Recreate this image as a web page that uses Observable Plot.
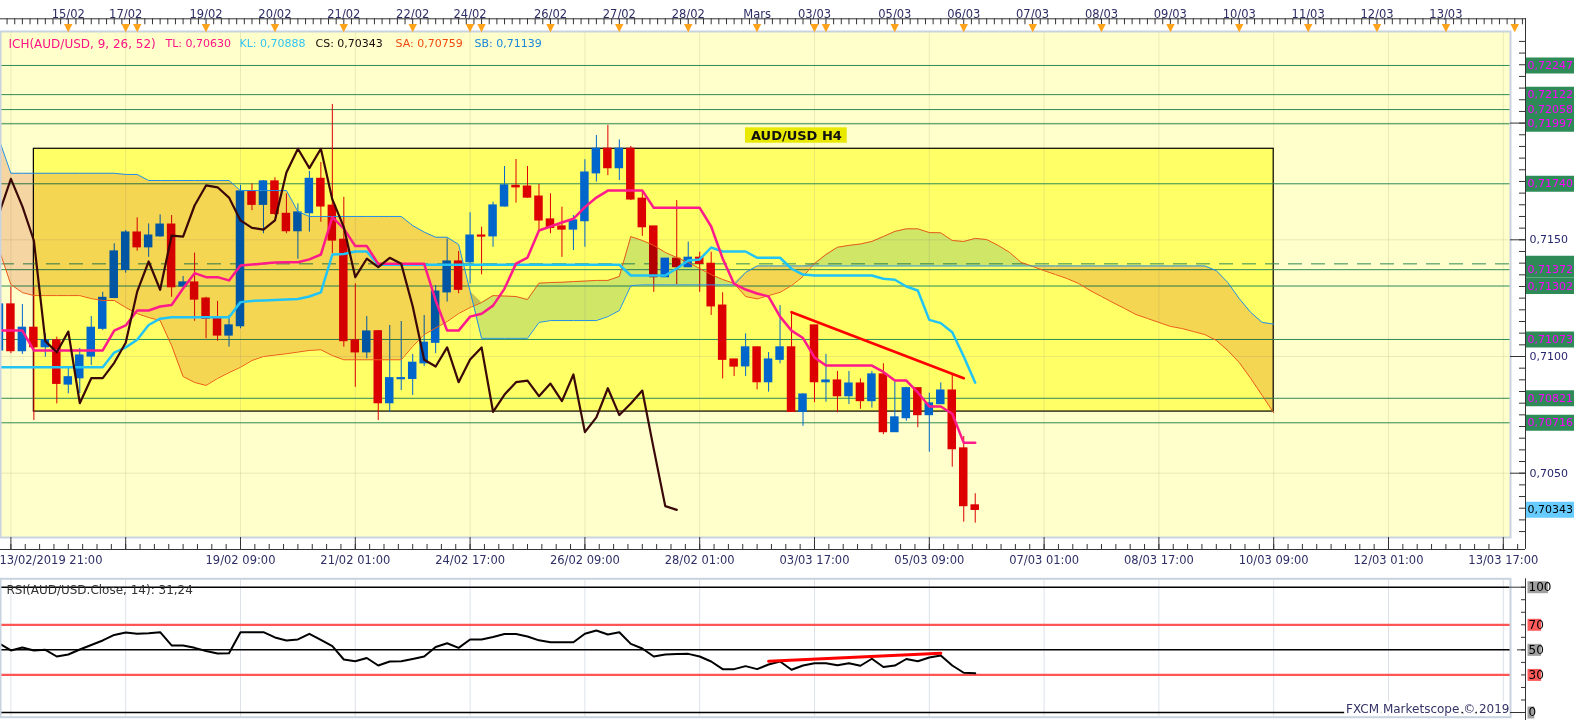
<!DOCTYPE html>
<html><head><meta charset="utf-8">
<script src="https://cdn.jsdelivr.net/npm/d3@7"></script>
<script src="https://cdn.jsdelivr.net/npm/@observablehq/plot@0.6"></script>
<style>
html,body{margin:0;padding:0;background:#fff;overflow:hidden;font-family:"DejaVu Sans",sans-serif;}
#wrap{position:relative;width:1583px;height:720px;overflow:hidden;}
#price,#rsi{position:absolute;left:0;}
#price{top:0;} #rsi{top:570px;}
</style></head><body><div id="wrap"><div id="price"></div><div id="rsi"></div></div>
<script>
// ---------- DATA (H4 bars, index 0 = 13/02/2019 21:00) ----------
const open = [0.71026,0.71223,0.71023,0.71123,0.71040,0.71069,0.70880,0.70907,0.71000,0.71119,
0.71251,0.71371,0.71531,0.71468,0.71515,0.71565,0.71300,0.71317,0.71248,0.71162,
0.71090,0.71130,0.71707,0.71650,0.71750,0.71611,0.71537,0.71614,0.71761,0.71646,
0.71500,0.71069,0.71018,0.71108,0.70800,0.70903,0.70904,0.70971,0.71059,0.71275,
0.71407,0.71404,0.71518,0.71515,0.71643,0.71731,0.71728,0.71685,0.71587,0.71557,
0.71544,0.71580,0.71785,0.71890,0.71807,0.71890,0.71676,0.71557,0.71340,0.71419,
0.71383,0.71423,0.71397,0.71218,0.70987,0.70958,0.71039,0.70890,0.70986,0.71039,
0.70763,0.71133,0.70890,0.70897,0.70830,0.70884,0.70809,0.70923,0.70676,0.70736,
0.70864,0.70749,0.70796,0.70854,0.70606,0.70362];
const high = [0.71248,0.71297,0.71223,0.71296,0.71097,0.71083,0.70954,0.71034,0.71171,0.71275,
0.71483,0.71540,0.71594,0.71568,0.71607,0.71604,0.71343,0.71443,0.71254,0.71236,
0.71176,0.71733,0.71740,0.71754,0.71766,0.71697,0.71654,0.71793,0.71831,0.72080,
0.71682,0.71311,0.71171,0.71111,0.71133,0.71150,0.71009,0.71176,0.71304,0.71504,
0.71450,0.71616,0.71554,0.71661,0.71814,0.71844,0.71814,0.71737,0.71697,0.71640,
0.71604,0.71843,0.71947,0.71990,0.71928,0.71900,0.71704,0.71557,0.71419,0.71668,
0.71490,0.71447,0.71447,0.71273,0.70987,0.71097,0.71041,0.71017,0.71218,0.71190,
0.70840,0.71133,0.71009,0.70936,0.70936,0.70904,0.70936,0.70969,0.70897,0.70868,
0.70864,0.70843,0.70887,0.70923,0.70657,0.70412];
const low = [0.71000,0.71012,0.71009,0.70726,0.70997,0.70797,0.70840,0.70841,0.70961,0.71111,
0.71248,0.71357,0.71451,0.71425,0.71511,0.71254,0.71297,0.71151,0.71076,0.71066,
0.71040,0.71119,0.71625,0.71526,0.71604,0.71526,0.71417,0.71533,0.71575,0.71440,
0.71040,0.70868,0.70990,0.70726,0.70761,0.70854,0.70833,0.70957,0.71012,0.71233,
0.71269,0.71311,0.71350,0.71468,0.71640,0.71657,0.71678,0.71540,0.71526,0.71425,
0.71454,0.71468,0.71747,0.71775,0.71754,0.71668,0.71515,0.71275,0.71340,0.71308,
0.71383,0.71275,0.71176,0.70904,0.70914,0.70914,0.70857,0.70847,0.70969,0.70761,
0.70701,0.70802,0.70804,0.70759,0.70794,0.70774,0.70779,0.70665,0.70676,0.70723,
0.70695,0.70590,0.70796,0.70526,0.70290,0.70286];
const close = [0.71223,0.71023,0.71123,0.71040,0.71069,0.70883,0.70911,0.71004,0.71123,0.71251,
0.71450,0.71531,0.71468,0.71518,0.71565,0.71297,0.71317,0.71244,0.71162,0.71090,
0.71133,0.71707,0.71650,0.71750,0.71611,0.71537,0.71617,0.71761,0.71643,0.71497,
0.71066,0.71018,0.71107,0.70800,0.70907,0.70907,0.70973,0.71059,0.71278,0.71407,
0.71286,0.71518,0.71514,0.71647,0.71733,0.71725,0.71681,0.71583,0.71551,0.71544,
0.71583,0.71788,0.71890,0.71807,0.71890,0.71673,0.71554,0.71340,0.71419,0.71383,
0.71423,0.71397,0.71215,0.70986,0.70957,0.71039,0.70890,0.70987,0.71039,0.70763,
0.70837,0.70890,0.70897,0.70830,0.70884,0.70809,0.70923,0.70676,0.70739,0.70864,
0.70749,0.70799,0.70854,0.70603,0.70359,0.70343];
const tenkan = [0.71111,0.71111,0.71111,0.71026,0.71026,0.71026,0.71026,0.71026,0.71026,0.71026,
0.71111,0.71133,0.71197,0.71197,0.71214,0.71221,0.71291,0.71357,0.71340,0.71340,
0.71326,0.71390,0.71394,0.71398,0.71403,0.71404,0.71404,0.71416,0.71437,0.71597,
0.71548,0.71473,0.71473,0.71397,0.71397,0.71397,0.71397,0.71397,0.71240,0.71111,
0.71111,0.71171,0.71183,0.71218,0.71291,0.71398,0.71424,0.71540,0.71557,0.71574,
0.71590,0.71640,0.71681,0.71711,0.71711,0.71711,0.71711,0.71637,0.71637,0.71637,
0.71637,0.71637,0.71557,0.71420,0.71311,0.71287,0.71270,0.71257,0.71171,0.71111,
0.71079,0.70996,0.70961,0.70961,0.70961,0.70961,0.70961,0.70934,0.70897,0.70897,
0.70846,0.70786,0.70786,0.70755,0.70630,0.70630];
const kijun = [0.70954,0.70954,0.70954,0.70954,0.70954,0.70954,0.70954,0.70954,0.70954,0.70954,
0.71017,0.71039,0.71072,0.71135,0.71162,0.71168,0.71168,0.71168,0.71168,0.71168,
0.71168,0.71233,0.71238,0.71240,0.71242,0.71244,0.71246,0.71257,0.71275,0.71437,
0.71439,0.71450,0.71450,0.71393,0.71393,0.71393,0.71393,0.71393,0.71393,0.71393,
0.71393,0.71393,0.71393,0.71393,0.71393,0.71393,0.71393,0.71393,0.71393,0.71393,
0.71393,0.71393,0.71393,0.71393,0.71393,0.71347,0.71347,0.71347,0.71347,0.71377,
0.71411,0.71416,0.71467,0.71450,0.71450,0.71450,0.71423,0.71423,0.71423,0.71376,
0.71351,0.71347,0.71347,0.71347,0.71347,0.71347,0.71347,0.71333,0.71329,0.71300,
0.71283,0.71157,0.71143,0.71104,0.71000,0.70888];
const senkouA = [0.71454,0.71308,0.71274,0.71261,0.71261,0.71261,0.71261,0.71261,0.71248,0.71240,
0.71240,0.71210,0.71184,0.71167,0.71154,0.71047,0.70914,0.70889,0.70876,0.70906,
0.70931,0.70954,0.70983,0.71000,0.71006,0.71012,0.71019,0.71026,0.71029,0.71004,
0.70986,0.70986,0.70986,0.70986,0.70986,0.70986,0.71043,0.71094,0.71122,0.71150,
0.71184,0.71210,0.71231,0.71261,0.71259,0.71257,0.71244,0.71314,0.71317,0.71318,
0.71321,0.71323,0.71326,0.71326,0.71343,0.71514,0.71497,0.71476,0.71446,0.71424,
0.71403,0.71377,0.71351,0.71330,0.71313,0.71257,0.71247,0.71261,0.71275,0.71304,
0.71343,0.71398,0.71437,0.71468,0.71476,0.71482,0.71493,0.71514,0.71536,0.71547,
0.71547,0.71531,0.71530,0.71497,0.71493,0.71506,0.71501,0.71476,0.71446,0.71403,
0.71386,0.71368,0.71351,0.71334,0.71313,0.71283,0.71257,0.71231,0.71206,0.71180,
0.71163,0.71146,0.71129,0.71120,0.71107,0.71094,0.71069,0.71026,0.70974,0.70906,
0.70833,0.70759];
const senkouB = [0.71925,0.71785,0.71785,0.71785,0.71785,0.71785,0.71785,0.71785,0.71785,0.71785,
0.71785,0.71780,0.71780,0.71754,0.71754,0.71754,0.71754,0.71754,0.71754,0.71754,
0.71754,0.71711,0.71711,0.71711,0.71711,0.71711,0.71621,0.71600,0.71600,0.71600,
0.71600,0.71600,0.71600,0.71600,0.71600,0.71600,0.71561,0.71533,0.71511,0.71511,
0.71480,0.71280,0.71078,0.71078,0.71078,0.71078,0.71078,0.71146,0.71154,0.71154,
0.71154,0.71154,0.71154,0.71171,0.71197,0.71304,0.71307,0.71307,0.71307,0.71307,
0.71307,0.71307,0.71307,0.71307,0.71307,0.71360,0.71388,0.71388,0.71388,0.71388,
0.71388,0.71388,0.71388,0.71388,0.71388,0.71388,0.71388,0.71388,0.71388,0.71388,
0.71388,0.71388,0.71388,0.71388,0.71388,0.71388,0.71388,0.71388,0.71388,0.71388,
0.71388,0.71388,0.71388,0.71388,0.71388,0.71388,0.71388,0.71388,0.71388,0.71388,
0.71388,0.71388,0.71388,0.71388,0.71388,0.71388,0.71368,0.71317,0.71248,0.71189,
0.71146,0.71139];
const rsiValues = [55.1,49.5,51.9,49.5,50.0,44.7,46.3,50.3,53.9,57.5,
61.9,63.8,62.8,63.3,64.1,53.5,53.5,51.6,49.1,47.1,
47.3,64.1,64.1,64.1,59.9,57.5,58.3,62.8,57.9,52.9,
42.3,40.9,43.5,37.5,40.7,40.9,42.7,44.7,52.3,55.3,
51.6,58.3,58.3,60.3,62.6,62.6,60.7,57.6,56.1,56.1,
56.1,62.8,65.4,62.3,64.1,54.8,51.1,44.7,46.3,46.7,
46.8,44.7,40.7,34.6,34.6,37.0,34.6,38.3,40.7,34.1,
37.5,39.3,39.3,37.7,39.3,37.3,42.9,36.3,37.5,42.7,
40.9,43.9,45.5,37.5,31.7,31.24];
const levelPrices = [0.72247,0.72122,0.72058,0.71997,0.71740,0.71372,0.71302,0.71073,0.70821,0.70716];
const dashedLevel = [0.71397];
const zoneBars = [3, 111];
const zonePrices = [0.70764, 0.71890];
const trendBars = [69, 84];
const trendPrices = [0.71190, 0.70907];
const rsiTrendBars = [67, 82];
const rsiTrendValues = [40.9, 47.3];
const priceTicks = [0.7050, 0.7100, 0.7150, 0.7200];
const priceTickLabels = [0.7050, 0.7100, 0.7150];
const dayBars = [6,11,12,18,24,30,36,41,42,48,54,60,66,71,72,78,84,90,96,102,108,114,120,126,132];
const dayLabels = ["15/02","17/02","","19/02","20/02","21/02","22/02","24/02","","26/02","27/02","28/02","Mars","03/03","","05/03","06/03","07/03","08/03","09/03","10/03","11/03","12/03","13/03",""];
const timeBars = [0,21,31,41,51,61,71,81,91,101,111,121,131];
const timeLabels = ["13/02/2019 21:00","19/02 09:00","21/02 01:00","24/02 17:00","26/02 09:00","28/02 01:00","03/03 17:00","05/03 09:00","07/03 01:00","08/03 17:00","10/03 09:00","12/03 01:00","13/03 17:00"];
const rsiLevelsBlack = [100, 50, 0];
const rsiLevelsRed = [70, 30];
const chartLabel = "AUD/USD H4";
const chartLabelAnchor = [69.42, 0.719469];

// ---------- BUILD ----------
const xDomain = [0.094, 132.934];
const priceDomain = [0.702245, 0.723925];
const W = 1583, mR = 58, frameW = W - mR;
const fmt = (v, d) => v.toFixed(d).replace(".", ",");
const candles = open.map((o, i) => ({i, open: o, high: high[i], low: low[i], close: close[i]}));
const colorOf = d => d.close < d.open ? "#dd0000" : "#0066cc";
const cloud = senkouA.map((a, i) => ({i, sa: a, sb: senkouB[i], top: Math.max(a, senkouB[i])}));
const chikou = close.slice(26).map((c, k) => ({i: k, p: c})); // close plotted 26 bars back
const tl = tenkan.map((p, i) => ({i, p}));
const kl = kijun.map((p, i) => ({i, p}));
const rsi = rsiValues.map((v, i) => ({i, v}));
const zone = {x1: zoneBars[0], x2: zoneBars[1], y1: zonePrices[0], y2: zonePrices[1]};
const trend = trendBars.map((b, k) => ({i: b, p: trendPrices[k]}));
const rsiTrend = rsiTrendBars.map((b, k) => ({i: b, v: rsiTrendValues[k]}));
const gridBars = d3.range(1, 133, 10);
const minorPriceTicks = d3.range(1405, 1448).map(k => k * 0.0005);
const rulerTicks = d3.range(0, 133, 2/3);
const bottomMinor = d3.range(-0.25, 133, 1.25);
const days = dayBars.map((b, k) => ({i: b, label: dayLabels[k]}));
const times = timeBars.map((b, k) => ({i: b, label: timeLabels[k]}));
const lastClose = close[close.length - 1];
const legend = [
  {text: "ICH(AUD/USD, 9, 26, 52)", color: "#ff1485", dx: 8, size: 12},
  {text: "TL: " + fmt(tenkan[tenkan.length-1], 5), color: "#ff1485", dx: 165, size: 11},
  {text: "KL: " + fmt(kijun[kijun.length-1], 5), color: "#33c3f0", dx: 239, size: 11},
  {text: "CS: " + fmt(lastClose, 5), color: "#1a0a0a", dx: 315, size: 11},
  {text: "SA: " + fmt(senkouA[senkouA.length-1], 5), color: "#f04a10", dx: 395, size: 11},
  {text: "SB: " + fmt(senkouB[senkouB.length-1], 5), color: "#1a88d8", dx: 474, size: 11}
];
const baseStyle = {background: "transparent", overflow: "visible", maxWidth: "none", fontFamily: "DejaVu Sans"};

const levelMarks = [
  // level partly hidden behind the 0,71372 box (as in the original)
  Plot.tickY(dashedLevel, {y: d => d, insetLeft: frameW + 1, insetRight: -49, stroke: "#2e8b57", strokeWidth: 16}),
  ...levelPrices.flatMap(p => [
    Plot.tickY([p], {y: d => d, insetLeft: frameW + 1, insetRight: -49, stroke: "#2e8b57", strokeWidth: 16}),
    Plot.text([p], {y: d => d, text: d => fmt(d, 5), frameAnchor: "right", textAnchor: "start", dx: 2, fill: "#ff00ff", fontSize: 11})
  ])
];

const pricePlot = Plot.plot({
  width: W, height: 570, marginTop: 31, marginBottom: 33, marginLeft: 0, marginRight: mR,
  x: {domain: xDomain, axis: null},
  y: {domain: priceDomain, axis: null},
  color: {type: "identity"},
  style: baseStyle,
  marks: [
    Plot.frame({fill: "#ffffcc", insetRight: 15}),
    Plot.rect([zone], {x1: "x1", x2: "x2", y1: "y1", y2: "y2", fill: "#ffff66"}),
    Plot.ruleX(gridBars, {x: d => d, stroke: "#b8b880", strokeOpacity: 0.3}),
    Plot.ruleY(priceTicks, {y: d => d, stroke: "#b8b880", strokeOpacity: 0.3, insetRight: 15}),
    Plot.rect([zone], {x1: "x1", x2: "x2", y1: "y1", y2: "y2", fill: "none", stroke: "#000", strokeWidth: 1.2}),
    Plot.ruleY(levelPrices, {y: d => d, stroke: "#2e8b57", insetRight: 15}),
    Plot.ruleY(dashedLevel, {y: d => d, stroke: "#2e8b57", strokeDasharray: "14,9", insetRight: 15}),
    Plot.ruleX(candles, {x: "i", y1: "low", y2: "high", stroke: colorOf, strokeWidth: 1}),
    Plot.rect(candles, {x1: d => d.i - 0.37, x2: d => d.i + 0.37, y1: "open", y2: "close", fill: colorOf, insetTop: -0.6, insetBottom: -0.6}),
    Plot.areaY(cloud, {x: "i", y1: "sb", y2: "top", fill: "#cfe6ff", mixBlendMode: "multiply"}),
    Plot.areaY(cloud, {x: "i", y1: "sa", y2: "top", fill: "#f5d6cc", mixBlendMode: "multiply"}),
    Plot.line(cloud, {x: "i", y: "sa", stroke: "#ea5a1a", strokeWidth: 1}),
    Plot.line(cloud, {x: "i", y: "sb", stroke: "#1e8fe6", strokeWidth: 1}),
    Plot.line(kl, {x: "i", y: "p", stroke: "#22c4f5", strokeWidth: 2.5}),
    Plot.line(tl, {x: "i", y: "p", stroke: "#ff1a8c", strokeWidth: 2.5}),
    Plot.line(chikou, {x: "i", y: "p", stroke: "#3a0808", strokeWidth: 2.2}),
    Plot.line(trend, {x: "i", y: "p", stroke: "#ff0000", strokeWidth: 2.7}),
    Plot.rect([chartLabelAnchor], {x1: d => d[0] - 4.43, x2: d => d[0] + 4.43, y1: d => d[1] - 0.00033, y2: d => d[1] + 0.00033, fill: "#e8e800"}),
    Plot.text([chartLabelAnchor], {x: d => d[0], y: d => d[1], text: () => chartLabel, fontWeight: "bold", fontSize: 13, fill: "#111"}),
    Plot.frame({stroke: "#c9d3e0", strokeWidth: 2, insetRight: 15}),
    // right price axis
    Plot.ruleX([xDomain[1]], {stroke: "#333", insetTop: -13, insetBottom: -12}),
    Plot.tickY(minorPriceTicks, {y: d => d, insetLeft: frameW - 6, stroke: "#333"}),
    Plot.tickY(priceTicks, {y: d => d, insetLeft: frameW - 15, stroke: "#333"}),
    Plot.text(priceTickLabels, {y: d => d, text: d => fmt(d, 4), frameAnchor: "right", textAnchor: "start", dx: 4, fill: "#26266e", fontSize: 11}),
    ...levelMarks,
    Plot.tickY([lastClose], {y: d => d, insetLeft: frameW + 1, insetRight: -49, stroke: "#66ccff", strokeWidth: 16}),
    Plot.text([lastClose], {y: d => d, text: d => fmt(d, 5), frameAnchor: "right", textAnchor: "start", dx: 2, fill: "#000", fontSize: 11}),
    // top ruler
    Plot.ruleY([priceDomain[1]], {y: d => d, stroke: "#333", dy: -12.7}),
    Plot.tickX(rulerTicks, {x: d => d, stroke: "#333", insetBottom: 500, dy: -12.7}),
    Plot.text(days, {x: "i", text: () => "▼", frameAnchor: "top", dy: -8, fill: "#ffa31a", fontSize: 11}),
    Plot.text(days.filter(d => d.label), {x: "i", text: "label", frameAnchor: "top", dy: -22, fill: "#2e2e66", fontSize: 11.5}),
    // bottom time axis
    Plot.ruleY([priceDomain[0]], {y: d => d, stroke: "#333", dy: 12}),
    Plot.tickX(gridBars, {x: d => d, stroke: "#333", insetTop: 494, dy: 12}),
    Plot.tickX(bottomMinor, {x: d => d, stroke: "#333", insetTop: 501, dy: 12}),
    Plot.text(times.slice(0, 1), {x: "i", text: "label", frameAnchor: "bottom", dy: 26, textAnchor: "start", fill: "#2e2e66", fontSize: 11.5}),
    Plot.text(times.slice(1), {x: "i", text: "label", frameAnchor: "bottom", dy: 26, fill: "#2e2e66", fontSize: 11.5}),
    // legend
    ...legend.map(p => Plot.text([p], {frameAnchor: "top-left", dx: p.dx, dy: 8, text: "text", fill: p.color, textAnchor: "start", fontSize: p.size}))
  ]
});
document.getElementById("price").appendChild(pricePlot);

const rsiLabelMarks = [100, 70, 50, 30, 0].flatMap(v => {
  const w = 6.8 * String(v).length;
  const c = rsiLevelsRed.includes(v) ? "#ff5a5a" : "#a0a0a0";
  return [
    Plot.tickY([v], {y: d => d, insetLeft: frameW + 2.5, insetRight: -(2.5 + w), stroke: c, strokeWidth: 12}),
    Plot.text([v], {y: d => d, text: d => String(d), frameAnchor: "right", textAnchor: "start", dx: 3, fill: "#000", fontSize: 12})
  ];
});

const rsiPlot = Plot.plot({
  width: W, height: 150, marginTop: 16.7, marginBottom: 8, marginLeft: 0, marginRight: mR,
  x: {domain: xDomain, axis: null},
  y: {domain: [0, 100], axis: null},
  style: baseStyle,
  marks: [
    Plot.frame({fill: "white", insetRight: 15, insetTop: -8.4, insetBottom: -4.7}),
    Plot.ruleX(gridBars, {x: d => d, stroke: "#dde2e8", insetTop: -8.4, insetBottom: -4.7}),
    Plot.ruleY(rsiLevelsBlack, {y: d => d, stroke: "#000", strokeWidth: 1.5, insetRight: 15}),
    Plot.ruleY(rsiLevelsRed, {y: d => d, stroke: "#ff5555", strokeWidth: 2.2, insetRight: 15}),
    Plot.line(rsi, {x: "i", y: "v", stroke: "#000", strokeWidth: 2}),
    Plot.line(rsiTrend, {x: "i", y: "v", stroke: "#ff0000", strokeWidth: 3}),
    Plot.text(["RSI(AUD/USD.Close, 14): " + fmt(rsiValues[rsiValues.length-1], 2)], {frameAnchor: "top-left", dx: 6, dy: -1.5, text: d => d, textAnchor: "start", fill: "#333", fontSize: 12}),
    Plot.text(["FXCM Marketscope © 2019"], {frameAnchor: "bottom-right", dx: -16, text: d => d, textAnchor: "end", fill: "#333366", fontSize: 12, stroke: "white", strokeWidth: 6}),
    Plot.frame({stroke: "#c9d3e0", strokeWidth: 2, insetRight: 15, insetTop: -8.4, insetBottom: -4.7}),
    Plot.ruleX([xDomain[1]], {stroke: "#333", insetTop: -8.4, insetBottom: -8}),
    Plot.tickY(d3.range(0, 101, 10), {y: d => d, insetLeft: frameW - 4, stroke: "#333"}),
    Plot.tickY([100, 0], {y: d => d, insetLeft: frameW - 15, stroke: "#333"}),
    Plot.tickY([50], {y: d => d, insetLeft: frameW - 8, stroke: "#333"}),
    ...rsiLabelMarks
  ]
});
document.getElementById("rsi").appendChild(rsiPlot);
</script></body></html>
